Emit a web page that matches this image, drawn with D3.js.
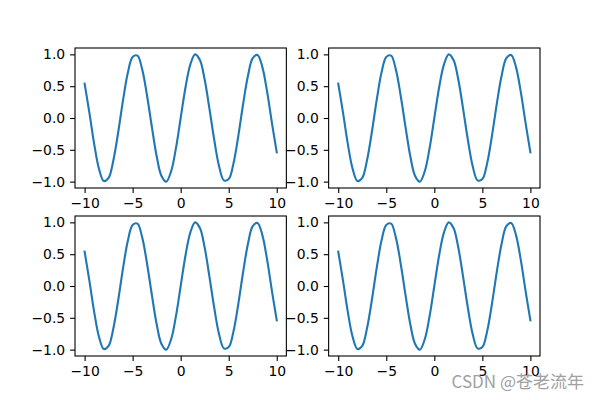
<!DOCTYPE html>
<html>
<head>
<meta charset="utf-8">
<script src="https://cdn.jsdelivr.net/npm/d3@7"></script>
<style>
  body { margin: 0; background: #fff; }
  .tick text { font-family: "DejaVu Sans", sans-serif; font-size: 13.9px; fill: #000; }
</style>
</head>
<body>
<div id="chart"></div>
<script>
// values (same curve in all four panels)
var xValues = [-10, -9.5, -9, -8.5, -8, -7.5, -7, -6.5, -6, -5.5, -5, -4.5, -4, -3.5, -3, -2.5, -2, -1.5, -1, -0.5,
               0, 0.5, 1, 1.5, 2, 2.5, 3, 3.5, 4, 4.5, 5, 5.5, 6, 6.5, 7, 7.5, 8, 8.5, 9, 9.5, 10];
var yValues = [0.54, 0.08, -0.41, -0.80, -0.99, -0.94, -0.66, -0.22, 0.28, 0.71, 0.96, 0.98, 0.76, 0.35, -0.14, -0.60, -0.91, -1.00, -0.84, -0.48,
               0.00, 0.48, 0.84, 1.00, 0.91, 0.60, 0.14, -0.35, -0.76, -0.98, -0.96, -0.71, -0.28, 0.22, 0.66, 0.94, 0.99, 0.80, 0.41, -0.08, -0.54];
var xTicks = [-10, -5, 0, 5, 10];
var yTicks = [-1.0, -0.5, 0.0, 0.5, 1.0];
var panels = [[0, 0], [0, 1], [1, 0], [1, 1]];

var W = 600, H = 400;
// subplot geometry
var padLeft = 0.125 * W, padRight = 0.9 * W, padTop = (1 - 0.88) * H, padBottom = (1 - 0.11) * H;
var cellW = (padRight - padLeft) / 2.2, cellH = (padBottom - padTop) / 2.2;
var gapW = cellW * 0.2, gapH = cellH * 0.2;

var svg = d3.select('#chart')
  .append('svg')
  .attr('width', W)
  .attr('height', H)

var points = xValues.map(function(x, i) { return [x, yValues[i]]; });

var xScale = d3.scaleLinear().domain([-11, 11]).range([0, cellW]);
var yScale = d3.scaleLinear().domain([-1.1, 1.1]).range([cellH, 0]);

var line = d3.line()
  .x(function(d) { return xScale(d[0]); })
  .y(function(d) { return yScale(d[1]); })
  .curve(d3.curveCatmullRom.alpha(0.5))

panels.forEach(function(p) {
  var ox = padLeft + p[1] * (cellW + gapW);
  var oy = padTop + p[0] * (cellH + gapH);
  var g = svg.append('g').attr('transform', 'translate(' + ox + ',' + oy + ')');

  g.append('path')
    .datum(points)
    .attr('d', line)
    .attr('fill', 'none')
    .attr('stroke', '#1f77b4')
    .attr('stroke-width', 2.1)
    .attr('stroke-linecap', 'square')

  var xAxis = d3.axisBottom(xScale)
    .tickValues(xTicks)
    .tickFormat(d3.format('d'))
    .tickSize(4.9)
    .tickPadding(4.9)
    .tickSizeOuter(0)
  var yAxis = d3.axisLeft(yScale)
    .tickValues(yTicks)
    .tickFormat(d3.format('.1f'))
    .tickSize(4.9)
    .tickPadding(4.9)
    .tickSizeOuter(0)

  var gx = g.append('g').attr('transform', 'translate(0,' + cellH + ')').call(xAxis);
  var gy = g.append('g').call(yAxis);
  [gx, gy].forEach(function(a) {
    a.select('.domain').remove();
    a.selectAll('.tick line').attr('stroke', '#000').attr('stroke-width', 1.1);
  });

  g.append('rect')
    .attr('width', cellW)
    .attr('height', cellH)
    .attr('fill', 'none')
    .attr('stroke', '#000')
    .attr('stroke-width', 1.1)
})

// watermark
svg.append('text')
  .attr('x', 584)
  .attr('y', 388)
  .attr('text-anchor', 'end')
  .attr('fill', '#a0a0a0')
  .style('font-family', '"Noto Sans CJK SC", sans-serif')
  .style('font-size', '17px')
  .text('CSDN @苍老流年')
</script>
</body>
</html>
